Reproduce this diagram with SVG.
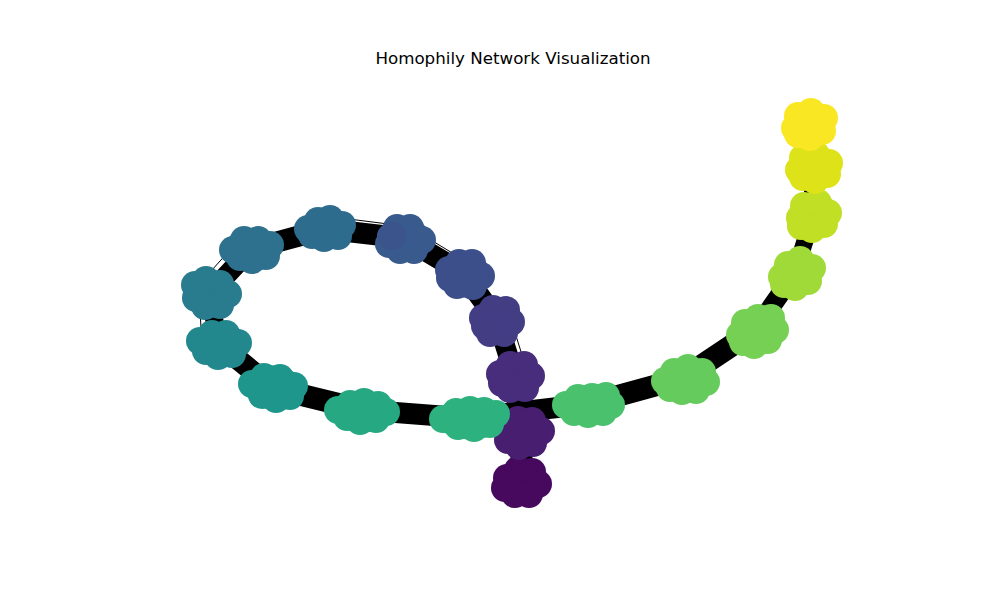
<svg xmlns="http://www.w3.org/2000/svg" width="1000" height="600" viewBox="0 0 1000 600">
<style>
.t{font-family:"DejaVu Sans",sans-serif;font-size:16.7px;fill:#000}
.b{stroke:#000;stroke-linecap:round;fill:none}
.th{stroke:#000;stroke-width:1;fill:none}
circle{r:14;stroke:none}
polygon{stroke-width:24;stroke-linejoin:round}
</style>
<rect width="1000" height="600" fill="#fff"/>
<text class="t" x="513" y="64" text-anchor="middle">Homophily Network Visualization</text>
<g id="edges">
<line class="b" x1="521" y1="482" x2="522" y2="432" stroke-width="22"/>
<line class="b" x1="522" y1="432" x2="515" y2="377" stroke-width="22"/>
<line class="b" x1="515" y1="377" x2="497" y2="320" stroke-width="20"/>
<line class="th" x1="529" y1="377" x2="511" y2="320"/>
<line class="b" x1="497" y1="320" x2="463" y2="273" stroke-width="21"/>
<line class="b" x1="463" y1="273" x2="404" y2="238" stroke-width="21"/>
<line class="th" x1="467" y1="262" x2="408" y2="226"/>
<line class="b" x1="404" y1="238" x2="325" y2="229" stroke-width="21"/>
<line class="th" x1="404" y1="226" x2="325" y2="216"/>
<line class="b" x1="325" y1="229" x2="251" y2="249" stroke-width="21"/>
<line class="b" x1="251" y1="249" x2="210" y2="293" stroke-width="20"/>
<line class="th" x1="238" y1="241" x2="194" y2="290"/>
<line class="b" x1="210" y1="293" x2="218" y2="343" stroke-width="18"/>
<line class="th" x1="199" y1="293" x2="202" y2="345"/>
<line class="b" x1="218" y1="343" x2="273" y2="388" stroke-width="21"/>
<line class="b" x1="273" y1="388" x2="363" y2="410" stroke-width="22"/>
<line class="b" x1="363" y1="410" x2="467" y2="418" stroke-width="21"/>
<line class="b" x1="467" y1="418" x2="588" y2="404" stroke-width="21"/>
<line class="b" x1="588" y1="404" x2="683" y2="378" stroke-width="22"/>
<line class="b" x1="683" y1="378" x2="755" y2="330" stroke-width="22"/>
<line class="b" x1="755" y1="330" x2="795" y2="273" stroke-width="19"/>
<line class="b" x1="795" y1="273" x2="813" y2="215" stroke-width="17"/>
<line class="b" x1="813" y1="215" x2="812" y2="168" stroke-width="17"/>
<line class="b" x1="812" y1="168" x2="808" y2="125" stroke-width="16"/>
</g>
<g id="c0" fill="#46095d" stroke="#46095d"><polygon points="507,478 518,470 532,472 538,484 529,494 515,494 505,488"/><circle cx="507" cy="478"/><circle cx="518" cy="470"/><circle cx="532" cy="472"/><circle cx="538" cy="484"/><circle cx="529" cy="494"/><circle cx="515" cy="494"/><circle cx="505" cy="488"/></g>
<g id="c1" fill="#481e70" stroke="#481e70"><polygon points="508,430 518,420 532,421 541,431 533,443 519,446 508,440"/><circle cx="508" cy="430"/><circle cx="518" cy="420"/><circle cx="532" cy="421"/><circle cx="541" cy="431"/><circle cx="533" cy="443"/><circle cx="519" cy="446"/><circle cx="508" cy="440"/></g>
<g id="c2" fill="#472d7b" stroke="#472d7b"><polygon points="500,374 510,365 524,365 531,376 525,388 510,389 502,383"/><circle cx="500" cy="374"/><circle cx="510" cy="365"/><circle cx="524" cy="365"/><circle cx="531" cy="376"/><circle cx="525" cy="388"/><circle cx="510" cy="389"/><circle cx="502" cy="383"/></g>
<g id="c3" fill="#433d84" stroke="#433d84"><polygon points="483,318 493,309 506,310 511,322 504,333 490,333 485,326"/><circle cx="483" cy="318"/><circle cx="493" cy="309"/><circle cx="506" cy="310"/><circle cx="511" cy="322"/><circle cx="504" cy="333"/><circle cx="490" cy="333"/><circle cx="485" cy="326"/></g>
<g id="c4" fill="#3c4f8a" stroke="#3c4f8a"><polygon points="449,270 459,263 472,263 481,276 473,286 457,285 450,278"/><circle cx="449" cy="270"/><circle cx="459" cy="263"/><circle cx="472" cy="263"/><circle cx="481" cy="276"/><circle cx="473" cy="286"/><circle cx="457" cy="285"/><circle cx="450" cy="278"/></g>
<g id="c5" fill="#385a8c" stroke="#385a8c"><polygon points="389,236 397,228 410,228 422,240 414,250 400,250 389,244"/><circle cx="397" cy="228"/><circle cx="410" cy="228"/><circle cx="422" cy="240"/><circle cx="414" cy="250"/><circle cx="400" cy="250"/><circle cx="389" cy="244"/><circle cx="392" cy="236" fill="#3b548b"/></g>
<g id="c6" fill="#2e6c8e" stroke="#2e6c8e"><polygon points="308,229 318,221 330,219 342,225 338,236 324,238 312,235"/><circle cx="308" cy="229"/><circle cx="318" cy="221"/><circle cx="330" cy="219"/><circle cx="342" cy="225"/><circle cx="338" cy="236"/><circle cx="324" cy="238"/><circle cx="312" cy="235"/></g>
<g id="c7" fill="#2d718e" stroke="#2d718e"><polygon points="233,250 244,240 258,240 270,245 266,256 252,260 240,257"/><circle cx="233" cy="250"/><circle cx="244" cy="240"/><circle cx="258" cy="240"/><circle cx="270" cy="245"/><circle cx="266" cy="256"/><circle cx="252" cy="260"/><circle cx="240" cy="257"/></g>
<g id="c8" fill="#297b8e" stroke="#297b8e"><polygon points="195,285 206,280 220,284 228,294 220,305 205,306 196,298"/><circle cx="195" cy="285"/><circle cx="206" cy="280"/><circle cx="220" cy="284"/><circle cx="228" cy="294"/><circle cx="220" cy="305"/><circle cx="205" cy="306"/><circle cx="196" cy="298"/></g>
<g id="c9" fill="#23888e" stroke="#23888e"><polygon points="200,341 212,334 226,334 238,343 232,354 218,356 206,351"/><circle cx="200" cy="341"/><circle cx="212" cy="334"/><circle cx="226" cy="334"/><circle cx="238" cy="343"/><circle cx="232" cy="354"/><circle cx="218" cy="356"/><circle cx="206" cy="351"/></g>
<g id="c10" fill="#1f968b" stroke="#1f968b"><polygon points="252,384 264,377 280,378 294,386 290,396 276,399 262,395"/><circle cx="252" cy="384"/><circle cx="264" cy="377"/><circle cx="280" cy="378"/><circle cx="294" cy="386"/><circle cx="290" cy="396"/><circle cx="276" cy="399"/><circle cx="262" cy="395"/></g>
<g id="c11" fill="#26a983" stroke="#26a983"><polygon points="338,410 350,404 364,402 378,405 386,412 376,419 360,421 347,417"/><circle cx="338" cy="410"/><circle cx="350" cy="404"/><circle cx="364" cy="402"/><circle cx="378" cy="405"/><circle cx="386" cy="412"/><circle cx="376" cy="419"/><circle cx="360" cy="421"/><circle cx="347" cy="417"/></g>
<g id="c12" fill="#2db17e" stroke="#2db17e"><polygon points="443,419 456,412 470,410 484,411 496,414 490,424 474,428 458,426"/><circle cx="443" cy="419"/><circle cx="456" cy="412"/><circle cx="470" cy="410"/><circle cx="484" cy="411"/><circle cx="496" cy="414"/><circle cx="490" cy="424"/><circle cx="474" cy="428"/><circle cx="458" cy="426"/></g>
<g id="c13" fill="#4ac16d" stroke="#4ac16d"><polygon points="566,405 578,398 592,397 606,396 611,405 603,412 588,414 574,412"/><circle cx="566" cy="405"/><circle cx="578" cy="398"/><circle cx="592" cy="397"/><circle cx="606" cy="396"/><circle cx="611" cy="405"/><circle cx="603" cy="412"/><circle cx="588" cy="414"/><circle cx="574" cy="412"/></g>
<g id="c14" fill="#66cb5d" stroke="#66cb5d"><polygon points="665,381 674,372 688,368 702,372 706,382 696,390 682,391 670,388"/><circle cx="665" cy="381"/><circle cx="674" cy="372"/><circle cx="688" cy="368"/><circle cx="702" cy="372"/><circle cx="706" cy="382"/><circle cx="696" cy="390"/><circle cx="682" cy="391"/><circle cx="670" cy="388"/></g>
<g id="c15" fill="#76d054" stroke="#76d054"><polygon points="740,335 745,323 758,318 771,318 775,330 768,340 754,345 743,342"/><circle cx="740" cy="335"/><circle cx="745" cy="323"/><circle cx="758" cy="318"/><circle cx="771" cy="318"/><circle cx="775" cy="330"/><circle cx="768" cy="340"/><circle cx="754" cy="345"/><circle cx="743" cy="342"/></g>
<g id="c16" fill="#a0da39" stroke="#a0da39"><polygon points="782,277 788,265 800,260 812,268 808,281 795,287 784,284"/><circle cx="782" cy="277"/><circle cx="788" cy="265"/><circle cx="800" cy="260"/><circle cx="812" cy="268"/><circle cx="808" cy="281"/><circle cx="795" cy="287"/><circle cx="784" cy="284"/></g>
<g id="c17" fill="#c0df25" stroke="#c0df25"><polygon points="800,218 804,206 818,203 828,213 824,224 812,229 801,226"/><circle cx="800" cy="218"/><circle cx="804" cy="206"/><circle cx="818" cy="203"/><circle cx="828" cy="213"/><circle cx="824" cy="224"/><circle cx="812" cy="229"/><circle cx="801" cy="226"/></g>
<g id="c18" fill="#dde318" stroke="#dde318"><polygon points="799,170 803,158 816,155 829,163 827,174 815,180 803,177"/><circle cx="799" cy="170"/><circle cx="803" cy="158"/><circle cx="816" cy="155"/><circle cx="829" cy="163"/><circle cx="827" cy="174"/><circle cx="815" cy="180"/><circle cx="803" cy="177"/></g>
<g id="c19" fill="#fae724" stroke="#fae724"><polygon points="795,128 798,116 811,112 824,118 822,131 810,137 798,134"/><circle cx="795" cy="128"/><circle cx="798" cy="116"/><circle cx="811" cy="112"/><circle cx="824" cy="118"/><circle cx="822" cy="131"/><circle cx="810" cy="137"/><circle cx="798" cy="134"/></g>
</svg>
